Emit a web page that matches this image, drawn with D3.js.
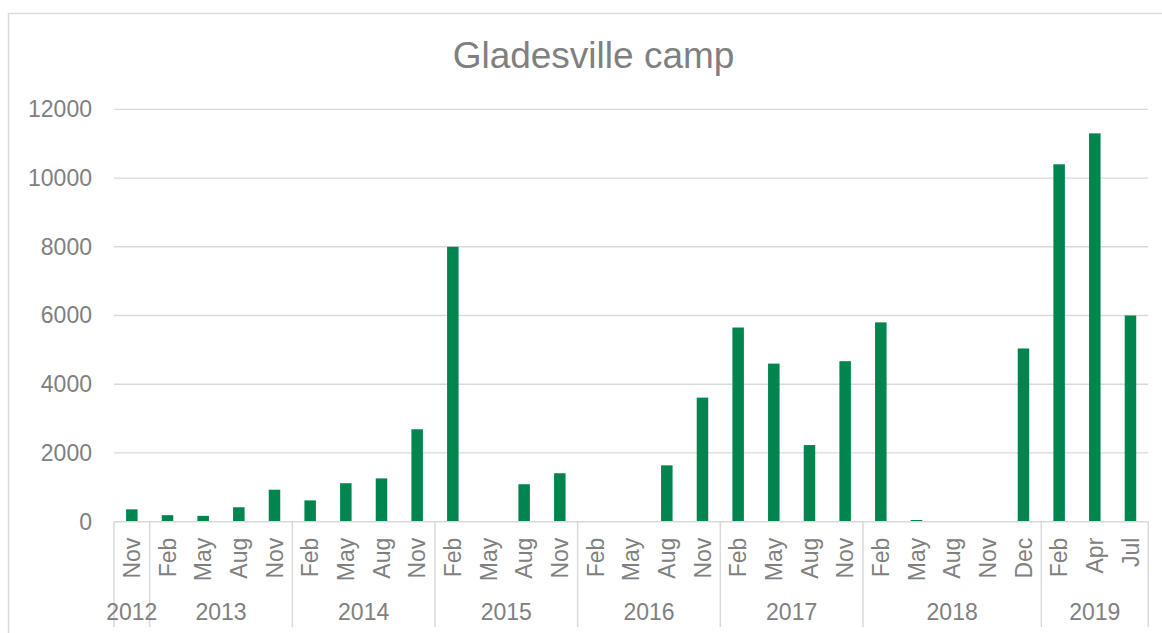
<!DOCTYPE html>
<html>
<head>
<meta charset="utf-8">
<script src="https://cdn.jsdelivr.net/npm/d3@7"></script>
<style>
  html, body { margin: 0; padding: 0; background: #fff; }
  svg { display: block; font-family: "Liberation Sans", Arial, sans-serif; }
</style>
</head>
<body>
<svg id="chart" width="1162" height="633"></svg>
<script>
// ---- Data ----
const months = ["Nov","Feb","May","Aug","Nov","Feb","May","Aug","Nov","Feb","May","Aug","Nov",
                "Feb","May","Aug","Nov","Feb","May","Aug","Nov","Feb","May","Aug","Nov","Dec",
                "Feb","Apr","Jul"];
const years = ["2012","2013","2013","2013","2013","2014","2014","2014","2014","2015","2015","2015","2015",
               "2016","2016","2016","2016","2017","2017","2017","2017","2018","2018","2018","2018","2018",
               "2019","2019","2019"];
const values = [360, 190, 170, 420, 930, 620, 1120, 1260, 2690, 8000, 0, 1090, 1410,
                0, 0, 1640, 3610, 5650, 4600, 2230, 4670, 5800, 50, 0, 0, 5040,
                10400, 11300, 6000];
const yTicks = [0, 2000, 4000, 6000, 8000, 10000, 12000];
const chartTitle = "Gladesville camp";

// ---- Layout ----
const plotL = 114, plotR = 1148.3, plotT = 109.3, plotB = 521.7;
const textColor = "#808080", gridColor = "#d9d9d9", barColor = "#00854F";

const svg = d3.select("#chart");

// Outer chart border
svg.append("rect")
  .attr("x", 8.5).attr("y", 13.5).attr("width", 1200).attr("height", 700)
  .attr("fill", "#fff").attr("stroke", gridColor).attr("stroke-width", 1.5);

// Title
svg.append("text")
  .attr("x", 593.5).attr("y", 68)
  .attr("text-anchor", "middle")
  .attr("fill", textColor)
  .style("font-size", "37px")
  .text(chartTitle);

const idx = d3.range(values.length);
const x = d3.scaleBand().domain(idx).range([plotL, plotR]).padding(0);
const y = d3.scaleLinear().domain([0, 12000]).range([plotB, plotT]);

// Gridlines
svg.append("g").selectAll("line").data(yTicks.filter(d => d > 0)).join("line")
  .attr("x1", plotL).attr("x2", plotR)
  .attr("y1", d => y(d)).attr("y2", d => y(d))
  .attr("stroke", gridColor).attr("stroke-width", 1.3);

// Y axis labels
const yAxis = d3.axisLeft(y).tickValues(yTicks).tickSize(0).tickPadding(0).tickFormat(d3.format("d"));
const yg = svg.append("g").attr("transform", `translate(92,0)`).call(yAxis);
yg.select(".domain").remove();
yg.selectAll("text").attr("fill", textColor).style("font-size", "23px")
  .attr("font-family", "Liberation Sans, Arial, sans-serif");

// Bars
const bw = x.bandwidth() / 3.1;
svg.append("g").selectAll("rect").data(idx).join("rect")
  .attr("x", i => x(i) + x.bandwidth() / 2 - bw / 2)
  .attr("width", bw)
  .attr("y", i => y(values[i]))
  .attr("height", i => y(0) - y(values[i]))
  .attr("fill", barColor);

// X axis baseline
svg.append("line")
  .attr("x1", plotL).attr("x2", plotR).attr("y1", plotB).attr("y2", plotB)
  .attr("stroke", gridColor).attr("stroke-width", 1.5);

// Month labels (rotated)
const xAxis = d3.axisBottom(x).tickSize(0).tickFormat(i => months[i]);
const xg = svg.append("g").attr("transform", `translate(0,${plotB})`).call(xAxis);
xg.select(".domain").remove();
xg.selectAll("text")
  .attr("fill", textColor).style("font-size", "23px")
  .attr("font-family", "Liberation Sans, Arial, sans-serif")
  .attr("text-anchor", "end")
  .attr("x", 0).attr("y", 0).attr("dy", "0.35em")
  .attr("transform", "translate(0,16) rotate(-90)");

// Year groups
const groups = [];
years.forEach((yr, i) => {
  const g = groups[groups.length - 1];
  if (g && g.year === yr) g.end = i; else groups.push({ year: yr, start: i, end: i });
});
const sepBottom = 627;
const boundaries = [plotL].concat(groups.map(g => x(g.end) + x.bandwidth()));
svg.append("g").selectAll("line").data(boundaries).join("line")
  .attr("x1", d => d).attr("x2", d => d)
  .attr("y1", plotB).attr("y2", sepBottom)
  .attr("stroke", gridColor).attr("stroke-width", 1.5);

svg.append("g").selectAll("text").data(groups).join("text")
  .attr("x", g => (x(g.start) + x(g.end) + x.bandwidth()) / 2)
  .attr("y", 620)
  .attr("text-anchor", "middle")
  .attr("fill", textColor)
  .style("font-size", "23px")
  .text(g => g.year);
</script>
</body>
</html>
